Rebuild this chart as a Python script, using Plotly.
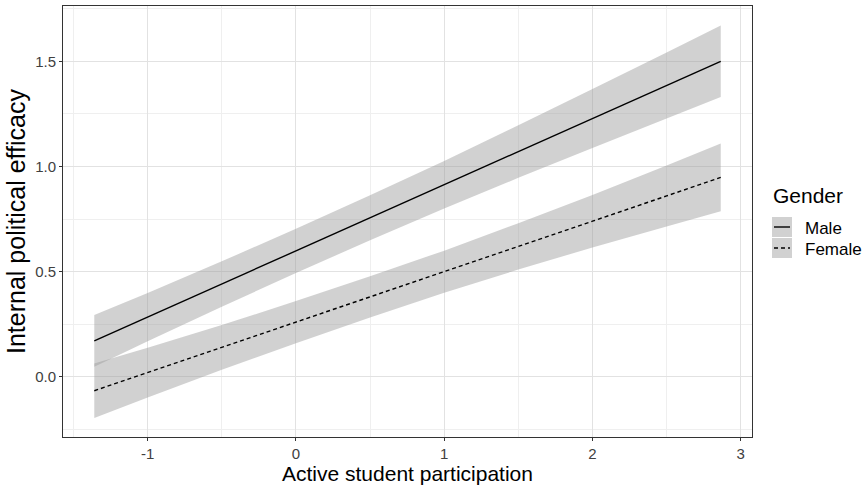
import plotly.graph_objects as go

# Predicted values
participation = [-1.36, -1.0, -0.5, 0.0, 0.5, 1.0, 1.5, 2.0, 2.5, 2.865]

male_pred = [0.171, 0.284, 0.441, 0.599, 0.756, 0.913, 1.071, 1.228, 1.385, 1.500]
male_low = [0.048, 0.169, 0.333, 0.494, 0.649, 0.800, 0.946, 1.088, 1.228, 1.330]
male_high = [0.294, 0.399, 0.549, 0.704, 0.863, 1.026, 1.196, 1.368, 1.542, 1.670]

female_pred = [-0.066, 0.020, 0.140, 0.260, 0.380, 0.500, 0.620, 0.740, 0.860, 0.948]
female_low = [-0.196, -0.098, 0.034, 0.160, 0.282, 0.400, 0.510, 0.615, 0.715, 0.787]
female_high = [0.064, 0.138, 0.246, 0.360, 0.478, 0.600, 0.730, 0.865, 1.005, 1.109]

x_ticks = [-1, 0, 1, 2, 3]
y_ticks = [0.0, 0.5, 1.0, 1.5]
groups = ["Male", "Female"]

W, H = 867, 487
ML, MR, MT, MB = 63, 115, 6, 50
PW, PH = W - ML - MR, H - MT - MB

RIBBON = "rgba(153,153,153,0.45)"
FONT = "Liberation Sans, Arial, sans-serif"


def px_x(p):
    return (p - ML) / PW


def px_y(p):
    return (H - MB - p) / PH


fig = go.Figure()

series = [
    (male_pred, male_low, male_high, "solid"),
    (female_pred, female_low, female_high, "4px,3px"),
]

for pred, lo, hi, dash in series:
    fig.add_trace(go.Scatter(
        x=participation + participation[::-1],
        y=hi + lo[::-1],
        fill="toself", fillcolor=RIBBON, mode="none",
        hoverinfo="skip", showlegend=False,
    ))

for name, (pred, lo, hi, dash) in zip(groups, series):
    fig.add_trace(go.Scatter(
        x=participation, y=pred, mode="lines", name=name,
        line=dict(color="black", width=1.4, dash=dash),
        showlegend=False,
    ))

# manual ggplot-style legend
shapes = []
annotations = [dict(
    x=px_x(771), y=px_y(196), xref="paper", yref="paper",
    text="Gender", showarrow=False, xanchor="left", yanchor="middle",
    font=dict(family=FONT, size=21, color="black"),
)]
key_tops = [217, 238]
for name, (pred, lo, hi, dash), top in zip(groups, series, key_tops):
    shapes.append(dict(
        type="rect", xref="paper", yref="paper",
        x0=px_x(772), x1=px_x(792), y0=px_y(top + 20), y1=px_y(top),
        fillcolor=RIBBON, line=dict(width=0), layer="above",
    ))
    shapes.append(dict(
        type="line", xref="paper", yref="paper",
        x0=px_x(774), x1=px_x(790), y0=px_y(top + 10), y1=px_y(top + 10),
        line=dict(color="black", width=1.4, dash=dash), layer="above",
    ))
    annotations.append(dict(
        x=px_x(803), y=px_y(top + 11), xref="paper", yref="paper",
        text=name, showarrow=False, xanchor="left", yanchor="middle",
        font=dict(family=FONT, size=17, color="black"),
    ))

axis_common = dict(
    showline=True, mirror=True, linecolor="#333333", linewidth=1,
    ticks="outside", ticklen=3, tickcolor="#333333", tickwidth=1,
    showgrid=True, gridcolor="#E2E2E2", gridwidth=1,
    zeroline=False,
    tickfont=dict(family=FONT, size=15, color="#404040"),
)

fig.update_layout(
    width=W, height=H,
    margin=dict(l=ML, r=MR, t=MT, b=MB, autoexpand=False),
    paper_bgcolor="white", plot_bgcolor="white",
    font=dict(family=FONT),
    shapes=shapes, annotations=annotations,
    xaxis=dict(
        range=[-1.571, 3.076], tickvals=x_ticks,
        ticktext=[str(v) for v in x_ticks],
        minor=dict(dtick=0.5, tick0=0, showgrid=True, gridcolor="#EFEFEF", gridwidth=0.8, ticks=""),
        title=dict(text="Active student participation", standoff=0,
                   font=dict(family=FONT, size=21, color="black")),
        **axis_common,
    ),
    yaxis=dict(
        range=[-0.286, 1.763], tickvals=y_ticks,
        ticktext=[f"{v:.1f}" for v in y_ticks],
        minor=dict(dtick=0.25, tick0=0, showgrid=True, gridcolor="#EFEFEF", gridwidth=0.8, ticks=""),
        title=dict(text="Internal political efficacy", standoff=2,
                   font=dict(family=FONT, size=25, color="black")),
        **axis_common,
    ),
)

fig.write_html("out.html", config={"displayModeBar": False},
               post_script="document.body.style.margin='0px';")
